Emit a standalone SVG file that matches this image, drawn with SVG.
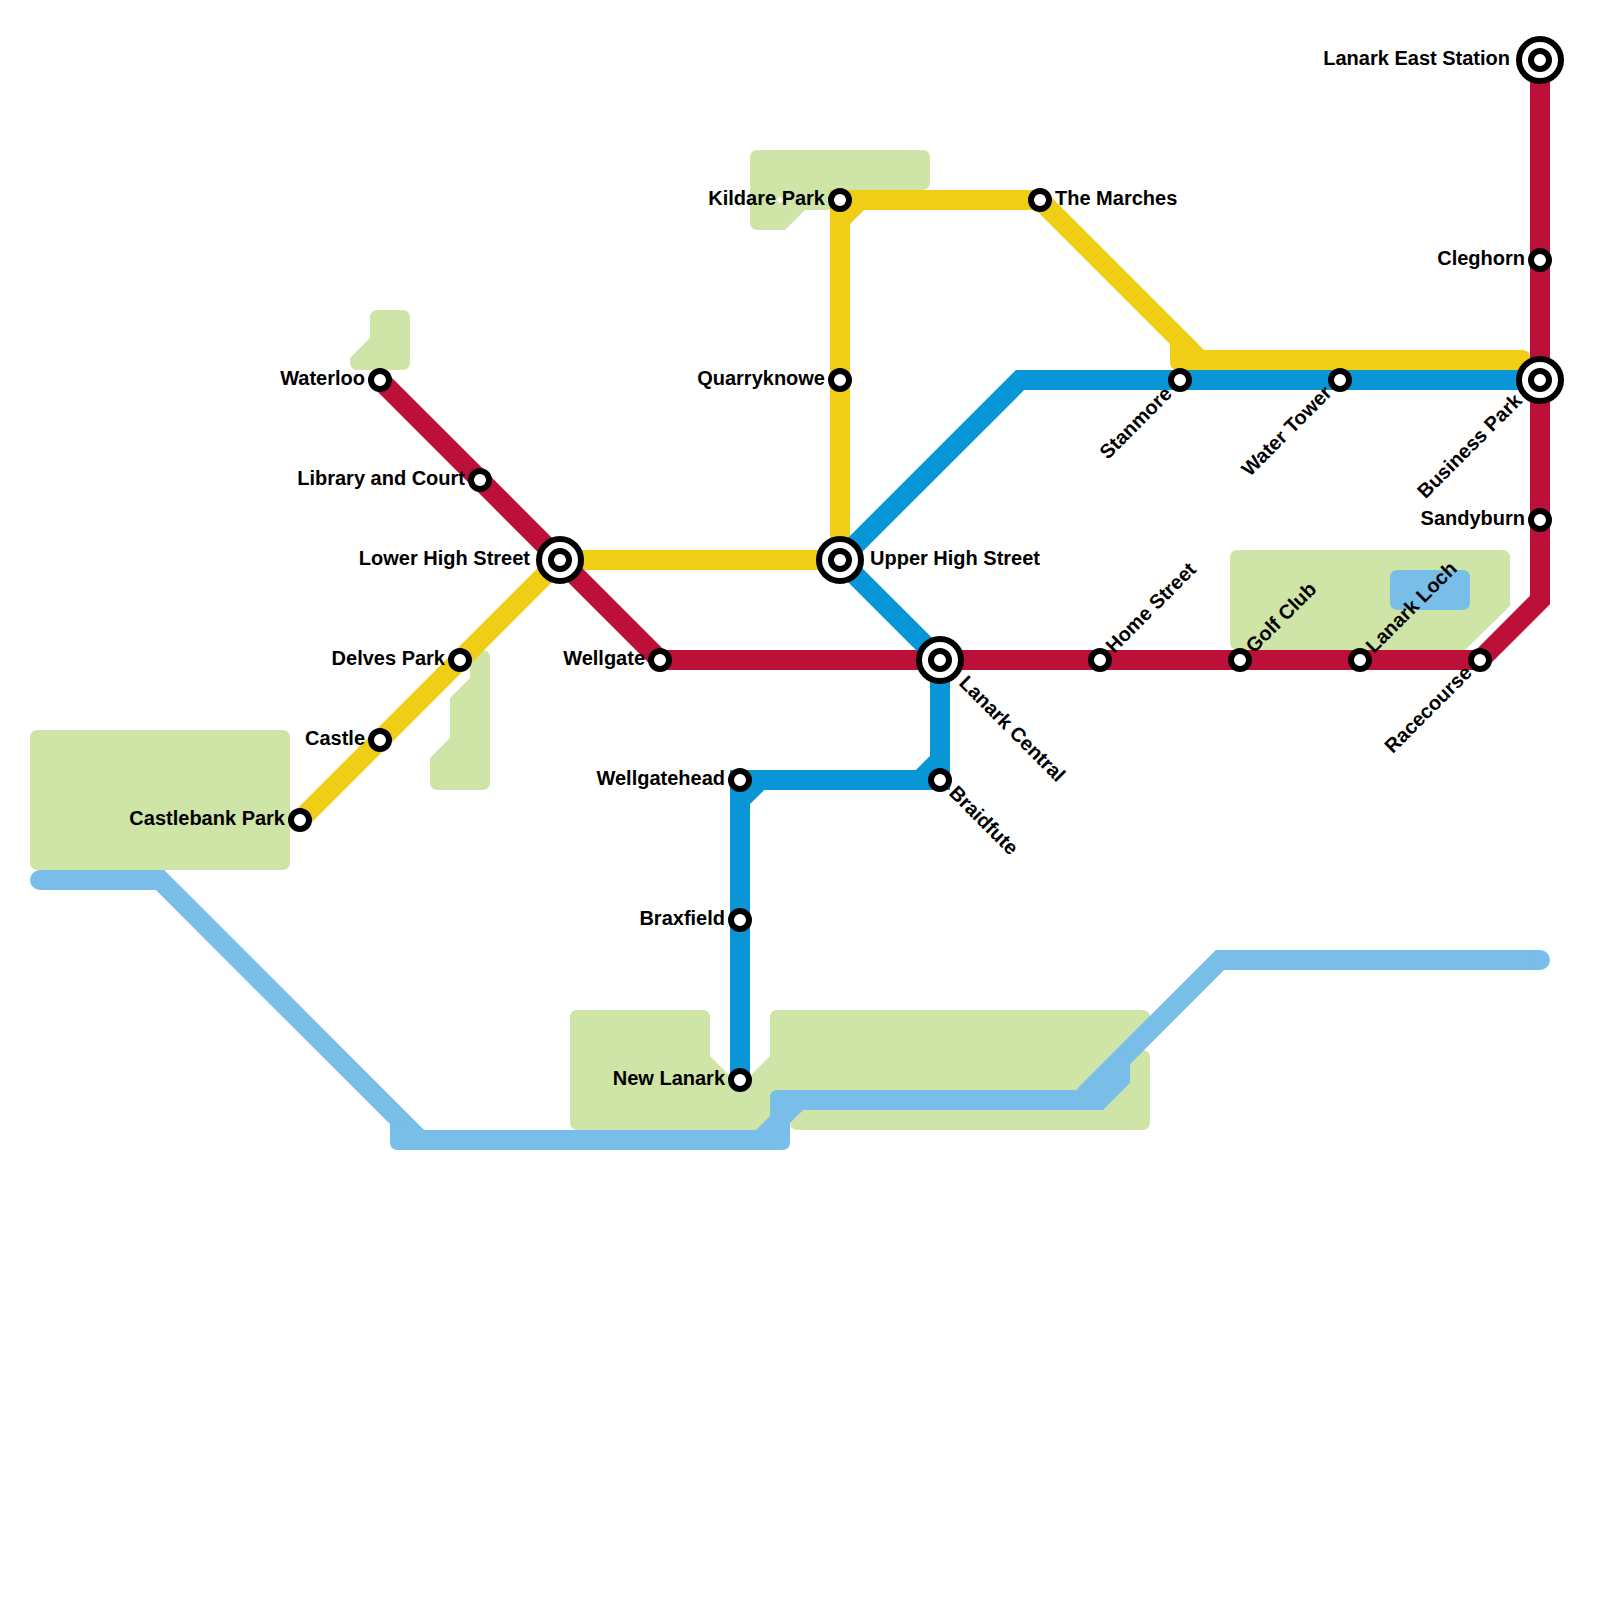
<svg xmlns="http://www.w3.org/2000/svg" width="1600" height="1600" viewBox="0 0 1600 1600">
<style>
.g{fill:#cfe4a7}
.l{fill:none;stroke-width:20;stroke-linejoin:miter}
.r{stroke:#bd1038}.y{stroke:#f0ce15}.b{stroke:#0896d7}.c{stroke:#79bde9}
text{font-family:"Liberation Sans",Arial,sans-serif;font-weight:700;font-size:20px;fill:#000}
.e{text-anchor:end}
.st{fill:#fff;stroke:#000;stroke-width:6}
.o{fill:#fff;stroke:#000;stroke-width:6}
</style>
<g id="parks">
<path class="g" d="M758,150H922Q930,150 930,158V182Q930,190 922,190H850V210H805L785,230H758Q750,230 750,222V158Q750,150 758,150Z"/>
<path d="M780,196.500L783.500,200L780,203.500L776.500,200Z" fill="#fff"/>
<path class="g" d="M378,310H402Q410,310 410,318V362Q410,370 402,370H358Q350,370 350,362V358L370,338V318Q370,310 378,310Z"/>
<path class="g" d="M478,650H482Q490,650 490,658V782Q490,790 482,790H438Q430,790 430,782V758L450,738V698L470,678V658Q470,650 478,650Z"/>
<path class="g" d="M38,730H282Q290,730 290,738V862Q290,870 282,870H38Q30,870 30,862V738Q30,730 38,730Z"/>
<path class="g" d="M1238,550H1502Q1510,550 1510,558V606L1465,650H1238Q1230,650 1230,642V558Q1230,550 1238,550Z"/>
<path class="g" d="M578,1010H702Q710,1010 710,1018V1056L730,1076H750L770,1056V1018Q770,1010 778,1010H1142Q1150,1010 1150,1018V1030L1130,1050H1142Q1150,1050 1150,1058V1122Q1150,1130 1142,1130H798Q790,1130 790,1122V1130H578Q570,1130 570,1122V1018Q570,1010 578,1010Z"/>
<path d="M1398,570H1462Q1470,570 1470,578V602Q1470,610 1462,610H1398Q1390,610 1390,602V578Q1390,570 1398,570Z" fill="#79bde9"/>
</g>
<g id="connectors">
<path class="l c" d="M40,880H160L420,1140" />
<circle cx="40" cy="880" r="10" fill="#79bde9"/>
<path class="l c" d="M1540,960H1220L1085,1095"/>
<circle cx="1540" cy="960" r="10" fill="#79bde9"/>
<path fill="#79bde9" d="M390,1124V1142Q390,1150 398,1150H782Q790,1150 790,1142V1123L803,1110H1103L1130,1083V1063L1120,1050L1085,1085L1076,1090H778Q770,1090 770,1098V1116L756,1130H424L410,1120Z"/>
<path class="l y" d="M300,820L560,560H840V220L860,200H1040L1190,350"/>
<path class="l y" d="M840,220V200H860"/>
<path fill="#f0ce15" d="M1170,344V362Q1170,370 1178,370H1530V358Q1530,350 1522,350H1204L1190,336Z"/>
<path class="l r" d="M1540,60V600L1480,660H660L380,380"/>
<path class="l b" d="M1540,380H1020L840,560L940,660V760L920,780H760L740,800V1080"/>
<path class="l b" d="M940,760V780H920M760,780H740V800"/>
</g>
<g id="Lanark_East_Station"><circle class="o" cx="1540" cy="60" r="21"/><circle class="st" cx="1540" cy="60" r="9"/><text class="e" x="1510" y="65">Lanark East Station</text></g>
<g id="Cleghorn"><circle class="st" cx="1540" cy="260" r="9"/><text class="e" x="1525" y="265">Cleghorn</text></g>
<g id="Business_Park"><circle class="o" cx="1540" cy="380" r="21"/><circle class="st" cx="1540" cy="380" r="9"/><text class="e" transform="translate(1523,402) rotate(-45)">Business Park</text></g>
<g id="Sandyburn"><circle class="st" cx="1540" cy="520" r="9"/><text class="e" x="1525" y="525">Sandyburn</text></g>
<g id="Racecourse"><circle class="st" cx="1480" cy="660" r="9"/><text class="e" transform="translate(1473,674) rotate(-45)">Racecourse</text></g>
<g id="Lanark_Loch"><circle class="st" cx="1360" cy="660" r="9"/><text transform="translate(1374,654) rotate(-45)">Lanark Loch</text></g>
<g id="Golf_Club"><circle class="st" cx="1240" cy="660" r="9"/><text transform="translate(1254,654) rotate(-45)">Golf Club</text></g>
<g id="Home_Street"><circle class="st" cx="1100" cy="660" r="9"/><text transform="translate(1114,654) rotate(-45)">Home Street</text></g>
<g id="Lanark_Central"><circle class="o" cx="940" cy="660" r="21"/><circle class="st" cx="940" cy="660" r="9"/><text transform="translate(958,684) rotate(45)">Lanark Central</text></g>
<g id="Braidfute"><circle class="st" cx="940" cy="780" r="9"/><text transform="translate(948,794) rotate(45)">Braidfute</text></g>
<g id="Wellgate"><circle class="st" cx="660" cy="660" r="9"/><text class="e" x="645" y="665">Wellgate</text></g>
<g id="Lower_High_Street"><circle class="o" cx="560" cy="560" r="21"/><circle class="st" cx="560" cy="560" r="9"/><text class="e" x="530" y="565">Lower High Street</text></g>
<g id="Library_and_Court"><circle class="st" cx="480" cy="480" r="9"/><text class="e" x="465" y="485">Library and Court</text></g>
<g id="Waterloo"><circle class="st" cx="380" cy="380" r="9"/><text class="e" x="365" y="385">Waterloo</text></g>
<g id="Delves_Park"><circle class="st" cx="460" cy="660" r="9"/><text class="e" x="445" y="665">Delves Park</text></g>
<g id="Castle"><circle class="st" cx="380" cy="740" r="9"/><text class="e" x="365" y="745">Castle</text></g>
<g id="Castlebank_Park"><circle class="st" cx="300" cy="820" r="9"/><text class="e" x="285" y="825">Castlebank Park</text></g>
<g id="Upper_High_Street"><circle class="o" cx="840" cy="560" r="21"/><circle class="st" cx="840" cy="560" r="9"/><text x="870" y="565">Upper High Street</text></g>
<g id="Quarryknowe"><circle class="st" cx="840" cy="380" r="9"/><text class="e" x="825" y="385">Quarryknowe</text></g>
<g id="Kildare_Park"><circle class="st" cx="840" cy="200" r="9"/><text class="e" x="825" y="205">Kildare Park</text></g>
<g id="The_Marches"><circle class="st" cx="1040" cy="200" r="9"/><text x="1055" y="205">The Marches</text></g>
<g id="Stanmore"><circle class="st" cx="1180" cy="380" r="9"/><text class="e" transform="translate(1173,395) rotate(-45)">Stanmore</text></g>
<g id="Water_Tower"><circle class="st" cx="1340" cy="380" r="9"/><text class="e" transform="translate(1333,394) rotate(-45)">Water Tower</text></g>
<g id="Wellgatehead"><circle class="st" cx="740" cy="780" r="9"/><text class="e" x="725" y="785">Wellgatehead</text></g>
<g id="Braxfield"><circle class="st" cx="740" cy="920" r="9"/><text class="e" x="725" y="925">Braxfield</text></g>
<g id="New_Lanark"><circle class="st" cx="740" cy="1080" r="9"/><text class="e" x="725" y="1085">New Lanark</text></g>
</svg>
